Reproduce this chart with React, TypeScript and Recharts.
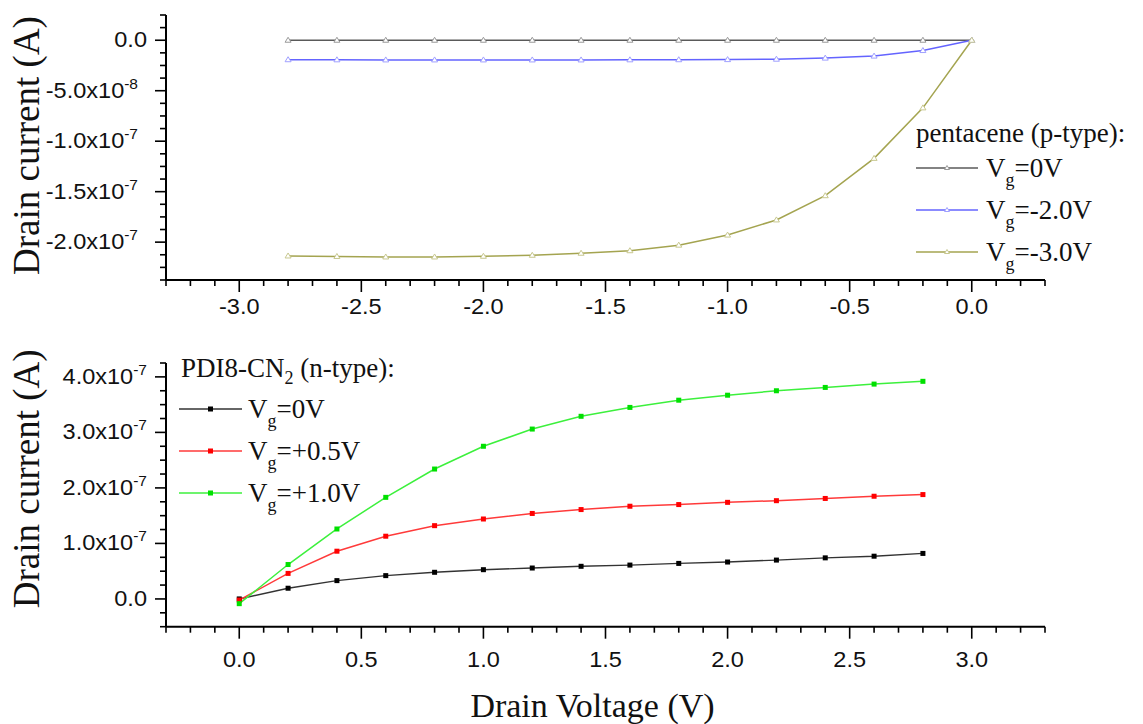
import React from 'react';
import { LineChart, Line, XAxis, YAxis, Legend, Label } from 'recharts';

// ---- pentacene (p-type) output characteristics ----
const pentaceneVd = [-2.8, -2.6, -2.4, -2.2, -2.0, -1.8, -1.6, -1.4, -1.2, -1.0, -0.8, -0.6, -0.4, -0.2, 0.0];
const pentaceneId0V = [0, 0, 0, 0, 0, 0, 0, 0, 0, 0, 0, 0, 0, 0, 0];
const pentaceneIdM2V = [
  -1.93e-8, -1.94e-8, -1.95e-8, -1.95e-8, -1.95e-8, -1.95e-8, -1.95e-8, -1.94e-8,
  -1.93e-8, -1.92e-8, -1.88e-8, -1.77e-8, -1.57e-8, -1.02e-8, 0,
];
const pentaceneIdM3V = [
  -2.137e-7, -2.142e-7, -2.147e-7, -2.147e-7, -2.14e-7, -2.13e-7, -2.11e-7, -2.085e-7,
  -2.03e-7, -1.93e-7, -1.78e-7, -1.54e-7, -1.17e-7, -0.67e-7, 0,
];

// ---- PDI8-CN2 (n-type) output characteristics ----
const pdiVd = [0.0, 0.2, 0.4, 0.6, 0.8, 1.0, 1.2, 1.4, 1.6, 1.8, 2.0, 2.2, 2.4, 2.6, 2.8];
const pdiId0V = [
  0, 0.193e-7, 0.33e-7, 0.42e-7, 0.48e-7, 0.527e-7, 0.557e-7, 0.588e-7,
  0.61e-7, 0.64e-7, 0.665e-7, 0.7e-7, 0.74e-7, 0.77e-7, 0.82e-7,
];
const pdiIdP05V = [
  -0.02e-7, 0.46e-7, 0.86e-7, 1.13e-7, 1.32e-7, 1.44e-7, 1.54e-7, 1.61e-7,
  1.67e-7, 1.7e-7, 1.74e-7, 1.77e-7, 1.81e-7, 1.85e-7, 1.88e-7,
];
const pdiIdP10V = [
  -0.085e-7, 0.62e-7, 1.26e-7, 1.83e-7, 2.34e-7, 2.75e-7, 3.06e-7, 3.29e-7,
  3.45e-7, 3.58e-7, 3.67e-7, 3.75e-7, 3.81e-7, 3.87e-7, 3.92e-7,
];

// ---- legend texts ----
const pentaceneGateLabels = ['=0V', '=-2.0V', '=-3.0V'];
const pdiGateLabels = ['=0V', '=+0.5V', '=+1.0V'];

// ---- axis ticks ----
const topXMajor = [-3.0, -2.5, -2.0, -1.5, -1.0, -0.5, 0.0];
const topXLabels = ['-3.0', '-2.5', '-2.0', '-1.5', '-1.0', '-0.5', '0.0'];
const bottomXMajor = [0.0, 0.5, 1.0, 1.5, 2.0, 2.5, 3.0];
const bottomXLabels = ['0.0', '0.5', '1.0', '1.5', '2.0', '2.5', '3.0'];
const topYMajor = [0, -5e-8, -1e-7, -1.5e-7, -2e-7];
const topYMantissa = ['0.0', '-5.0', '-1.0', '-1.5', '-2.0'];
const topYExponent = ['', '-8', '-7', '-7', '-7'];
const bottomYMajor = [0, 1e-7, 2e-7, 3e-7, 4e-7];
const bottomYMantissa = ['0.0', '1.0', '2.0', '3.0', '4.0'];
const bottomYExponent = ['', '-7', '-7', '-7', '-7'];

const SANS = "'Liberation Sans', Arial, sans-serif";
const SERIF = "'Liberation Serif', 'Times New Roman', serif";
const STRETCH = 1.07;
const TICK_FONT = 22;

// evenly spaced positions for the major + minor tick marks
const stepTicks = (from: number, to: number, step: number) => {
  const out: number[] = [];
  const n = Math.round((to - from) / step);
  for (let k = 0; k <= n; k++) out.push(+(from + k * step).toPrecision(12));
  return out;
};

const topXDomain: [number, number] = [-3.3, 0.3];
const bottomXDomain: [number, number] = [-0.3, 3.3];
const topYDomain: [number, number] = [-2.375e-7, 2.5e-8];
const bottomYDomain: [number, number] = [-5e-8, 4.25e-7];

const topXTicks = stepTicks(topXDomain[0], topXDomain[1], 0.1);
const bottomXTicks = stepTicks(bottomXDomain[0], bottomXDomain[1], 0.1);
const topYTicks = stepTicks(topYDomain[0], topYDomain[1], 1.25e-8);
const bottomYTicks = stepTicks(bottomYDomain[0], bottomYDomain[1], 2.5e-8);

const pentaceneRows = pentaceneVd.map((vd, i) => ({
  vd,
  id0: pentaceneId0V[i],
  idM2: pentaceneIdM2V[i],
  idM3: pentaceneIdM3V[i],
}));
const pdiRows = pdiVd.map((vd, i) => ({
  vd,
  id0: pdiId0V[i],
  idP05: pdiIdP05V[i],
  idP10: pdiIdP10V[i],
}));

const majorIndex = (v: number, majors: number[], tol: number) =>
  majors.findIndex((m) => Math.abs(m - v) < tol);

function makeXTick(majors: number[], labels: string[], labelGap: number) {
  return (props: any) => {
    const { x, y, payload } = props;
    const idx = majorIndex(payload.value, majors, 1e-6);
    return (
      <g>
        <line x1={x} x2={x} y1={y} y2={y + (idx >= 0 ? 12 : 6)} stroke="#000" strokeWidth={1.6} />
        {idx >= 0 && (
          <text
            transform={`translate(${x},${y + labelGap}) scale(${STRETCH},1)`}
            textAnchor="middle"
            fontFamily={SANS}
            fontSize={TICK_FONT}
            fill="#111"
          >
            {labels[idx]}
          </text>
        )}
      </g>
    );
  };
}

function makeYTick(majors: number[], mantissa: string[], exponent: string[], expShift: number) {
  return (props: any) => {
    const { x, y, payload } = props;
    const idx = majorIndex(payload.value, majors, 1e-10);
    const hasExp = idx >= 0 && exponent[idx] !== '';
    return (
      <g>
        <line x1={x - (idx >= 0 ? 11 : 6)} x2={x} y1={y} y2={y} stroke="#000" strokeWidth={1.6} />
        {idx >= 0 && (
          <text
            transform={`translate(${x - 19 + (hasExp ? expShift : 0)},${y + 7}) scale(${STRETCH},1)`}
            textAnchor="end"
            fontFamily={SANS}
            fontSize={TICK_FONT}
            fill="#111"
          >
            <tspan>{mantissa[idx] + (hasExp ? 'x10' : '')}</tspan>
            {hasExp && (
              <tspan dy={-9} fontSize={14.5}>
                {exponent[idx]}
              </tspan>
            )}
          </text>
        )}
      </g>
    );
  };
}

const triangleDot = (color: string) => (props: any) => {
  const { cx, cy, index } = props;
  if (cx == null || cy == null) return <g key={`t-${index}`} />;
  return (
    <path
      key={`t-${index}`}
      d={`M${cx},${cy - 3} L${cx + 3},${cy + 2} L${cx - 3},${cy + 2} Z`}
      fill="#fff"
      stroke={color}
      strokeWidth={1}
    />
  );
};

const squareDot = (color: string) => (props: any) => {
  const { cx, cy, index } = props;
  if (cx == null || cy == null) return <g key={`s-${index}`} />;
  return <rect key={`s-${index}`} x={cx - 2.5} y={cy - 2.5} width={5} height={5} fill={color} />;
};

type KeyRow = { line: string; mark: string; label: string };

function SeriesKey(props: {
  heading: React.ReactNode;
  rows: KeyRow[];
  shape: 'tri' | 'sq';
  titleY: number;
  rowY0: number;
  lineX1: number;
  lineX2: number;
  textX: number;
}) {
  const { heading, rows, shape, titleY, rowY0, lineX1, lineX2, textX } = props;
  return (
    <svg width={260} height={175} style={{ display: 'block', overflow: 'visible' }}>
      <text x={16} y={titleY} fontFamily={SERIF} fontSize={27} fill="#111">
        {heading}
      </text>
      {rows.map((r, i) => {
        const y = rowY0 + i * 42;
        const mx = (lineX1 + lineX2) / 2;
        return (
          <g key={r.label}>
            <line x1={lineX1} x2={lineX2} y1={y} y2={y} stroke={r.line} strokeWidth={1.5} />
            {shape === 'tri' ? (
              <path
                d={`M${mx},${y - 2.5} L${mx + 2.5},${y + 1.5} L${mx - 2.5},${y + 1.5} Z`}
                fill="#fff"
                stroke={r.mark}
                strokeWidth={1}
              />
            ) : (
              <rect x={mx - 2.5} y={y - 2.5} width={5} height={5} fill={r.mark} />
            )}
            <text x={textX} y={y + 9} fontFamily={SERIF} fontSize={27} fill="#111">
              <tspan>V</tspan>
              <tspan dy={9} fontSize={18}>
                g
              </tspan>
              <tspan dy={-9}>{r.label}</tspan>
            </text>
          </g>
        );
      })}
    </svg>
  );
}

const yTitle = (shift: number) => (p: any) => {
  const vb = p.viewBox || { y: 0, height: 0 };
  const cy = vb.y + vb.height / 2 + shift;
  return (
    <text
      x={39}
      y={cy}
      transform={`rotate(-90, 39, ${cy})`}
      textAnchor="middle"
      fontFamily={SERIF}
      fontSize={37}
      fill="#111"
    >
      Drain current (A)
    </text>
  );
};

const xTitle = (p: any) => {
  const vb = p.viewBox || { x: 0, y: 0, width: 0 };
  return (
    <text
      x={vb.x + vb.width / 2 - 13}
      y={vb.y + 90}
      textAnchor="middle"
      fontFamily={SERIF}
      fontSize={34}
      fill="#111"
    >
      Drain Voltage (V)
    </text>
  );
};

const pentaceneKeyRows: KeyRow[] = [
  { line: '#5a5a5a', mark: '#9a9a9a', label: pentaceneGateLabels[0] },
  { line: '#6464ff', mark: '#a0a0ff', label: pentaceneGateLabels[1] },
  { line: '#a4a450', mark: '#c8c890', label: pentaceneGateLabels[2] },
];
const pdiKeyRows: KeyRow[] = [
  { line: '#333333', mark: '#000000', label: pdiGateLabels[0] },
  { line: '#ff3a3a', mark: '#ff0000', label: pdiGateLabels[1] },
  { line: '#3cf03c', mark: '#00e000', label: pdiGateLabels[2] },
];

export default function App() {
  return (
    <div style={{ position: 'absolute', left: 0, top: 0, width: 1143, height: 724, background: '#fff' }}>
      <div style={{ position: 'absolute', left: 0, top: 0 }}>
        <LineChart width={1143} height={330} data={pentaceneRows} margin={{ top: 15, right: 98, bottom: 0, left: 0 }}>
          <XAxis
            type="number"
            dataKey="vd"
            domain={topXDomain}
            ticks={topXTicks}
            interval={0}
            tickSize={0}
            tickMargin={0}
            tickLine={false}
            height={50}
            axisLine={{ stroke: '#000', strokeWidth: 2 }}
            tick={makeXTick(topXMajor, topXLabels, 34)}
          />
          <YAxis
            type="number"
            domain={topYDomain}
            ticks={topYTicks}
            interval={0}
            tickSize={0}
            tickMargin={0}
            tickLine={false}
            width={166}
            axisLine={{ stroke: '#000', strokeWidth: 2 }}
            tick={makeYTick(topYMajor, topYMantissa, topYExponent, -9)}
          >
            <Label content={yTitle(-2)} />
          </YAxis>
          <Legend
            layout="vertical"
            align="center"
            verticalAlign="middle"
            wrapperStyle={{ left: 900, top: 110, width: 260, height: 175 }}
            content={() => (
              <SeriesKey
                heading="pentacene (p-type):"
                rows={pentaceneKeyRows}
                shape="tri"
                titleY={32}
                rowY0={58}
                lineX1={16}
                lineX2={78}
                textX={86}
              />
            )}
          />
          <Line type="linear" dataKey="id0" name="Vg=0V" stroke="#5a5a5a" strokeWidth={1.3}
            dot={triangleDot('#9a9a9a')} activeDot={false} isAnimationActive={false} />
          <Line type="linear" dataKey="idM2" name="Vg=-2.0V" stroke="#6464ff" strokeWidth={1.5}
            dot={triangleDot('#a0a0ff')} activeDot={false} isAnimationActive={false} />
          <Line type="linear" dataKey="idM3" name="Vg=-3.0V" stroke="#a4a450" strokeWidth={1.5}
            dot={triangleDot('#c8c890')} activeDot={false} isAnimationActive={false} />
        </LineChart>
      </div>
      <div style={{ position: 'absolute', left: 0, top: 330 }}>
        <LineChart width={1143} height={394} data={pdiRows} margin={{ top: 33, right: 98, bottom: 0, left: 0 }}>
          <XAxis
            type="number"
            dataKey="vd"
            domain={bottomXDomain}
            ticks={bottomXTicks}
            interval={0}
            tickSize={0}
            tickMargin={0}
            tickLine={false}
            height={97.3}
            axisLine={{ stroke: '#000', strokeWidth: 2 }}
            tick={makeXTick(bottomXMajor, bottomXLabels, 40)}
          >
            <Label content={xTitle} />
          </XAxis>
          <YAxis
            type="number"
            domain={bottomYDomain}
            ticks={bottomYTicks}
            interval={0}
            tickSize={0}
            tickMargin={0}
            tickLine={false}
            width={166}
            axisLine={{ stroke: '#000', strokeWidth: 2 }}
            tick={makeYTick(bottomYMajor, bottomYMantissa, bottomYExponent, 0)}
          >
            <Label content={yTitle(-16)} />
          </YAxis>
          <Legend
            layout="vertical"
            align="center"
            verticalAlign="middle"
            wrapperStyle={{ left: 165, top: 10, width: 260, height: 175 }}
            content={() => (
              <SeriesKey
                heading={
                  <>
                    <tspan>PDI8-CN</tspan>
                    <tspan dy={7} fontSize={18}>2</tspan>
                    <tspan dy={-7}> (n-type):</tspan>
                  </>
                }
                rows={pdiKeyRows}
                shape="sq"
                titleY={37}
                rowY0={69}
                lineX1={14}
                lineX2={77}
                textX={83}
              />
            )}
          />
          <Line type="linear" dataKey="id0" name="Vg=0V" stroke="#333333" strokeWidth={1.4}
            dot={squareDot('#000000')} activeDot={false} isAnimationActive={false} />
          <Line type="linear" dataKey="idP05" name="Vg=+0.5V" stroke="#ff3a3a" strokeWidth={1.5}
            dot={squareDot('#ff0000')} activeDot={false} isAnimationActive={false} />
          <Line type="linear" dataKey="idP10" name="Vg=+1.0V" stroke="#3cf03c" strokeWidth={1.5}
            dot={squareDot('#00e000')} activeDot={false} isAnimationActive={false} />
        </LineChart>
      </div>
    </div>
  );
}
